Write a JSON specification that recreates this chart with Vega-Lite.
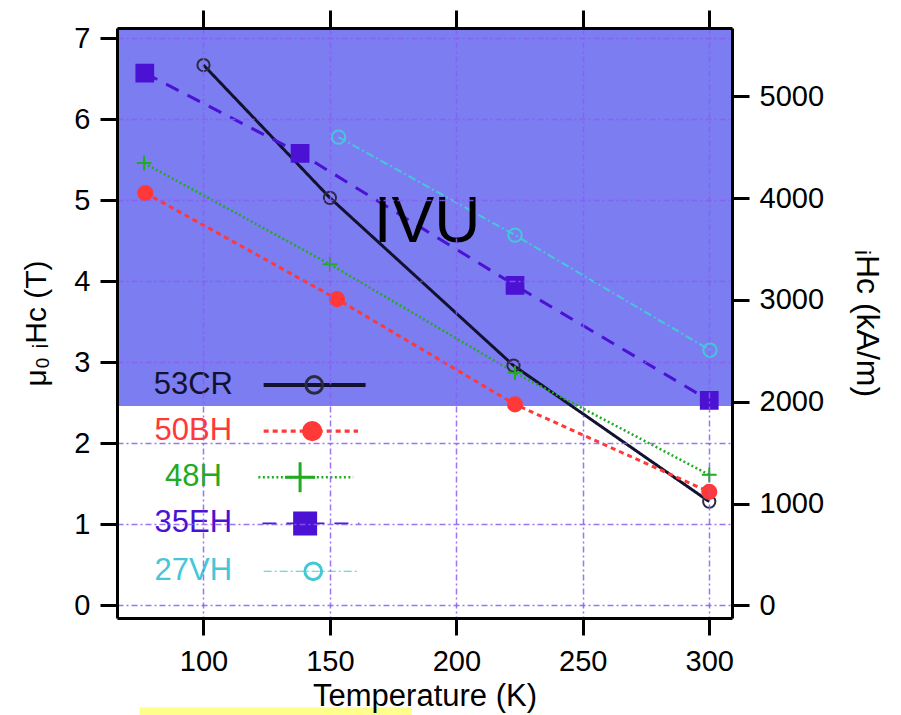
{
  "$schema": "https://vega.github.io/schema/vega-lite/v6.json",
  "width": 615,
  "height": 590,
  "autosize": {"type": "none"},
  "padding": {"left": 117, "top": 28, "right": 169, "bottom": 97},
  "background": "white",
  "config": {"view": {"stroke": null}, "font": "Liberation Sans"},
  "datasets": {
    "series": [
      {"series": "53CR", "T": 100, "H": 6.67},
      {"series": "53CR", "T": 150, "H": 5.03},
      {"series": "53CR", "T": 222.6, "H": 2.96},
      {"series": "53CR", "T": 300, "H": 1.28},
      {"series": "50BH", "T": 77, "H": 5.09},
      {"series": "50BH", "T": 152.8, "H": 3.78},
      {"series": "50BH", "T": 223.2, "H": 2.48},
      {"series": "50BH", "T": 300, "H": 1.4},
      {"series": "48H", "T": 76.5, "H": 5.46},
      {"series": "48H", "T": 150, "H": 4.21},
      {"series": "48H", "T": 223.2, "H": 2.87},
      {"series": "48H", "T": 300, "H": 1.61},
      {"series": "35EH", "T": 76.8, "H": 6.57},
      {"series": "35EH", "T": 138.2, "H": 5.58},
      {"series": "35EH", "T": 223.2, "H": 3.95},
      {"series": "35EH", "T": 300, "H": 2.53},
      {"series": "27VH", "T": 153.4, "H": 5.78},
      {"series": "27VH", "T": 223.2, "H": 4.57},
      {"series": "27VH", "T": 300.3, "H": 3.15}
    ],
    "legend": [
      {"series": "53CR", "ly": 2.72, "lx1": 123.8, "lx2": 164.1, "mx": 143.8, "tx": 96},
      {"series": "50BH", "ly": 2.15, "lx1": 123.8, "lx2": 161.1, "mx": 143, "tx": 96},
      {"series": "48H", "ly": 1.58, "lx1": 121.7, "lx2": 159.2, "mx": 138.2, "tx": 96},
      {"series": "35EH", "ly": 1.01, "lx1": 123.3, "lx2": 161.6, "mx": 140.2, "tx": 96},
      {"series": "27VH", "ly": 0.42, "lx1": 123.8, "lx2": 161.6, "mx": 143.4, "tx": 96}
    ],
    "zones": [
      {"kind": "IVU", "x1": 65.8, "x2": 309, "y1": 2.46, "y2": 7.127},
      {"kind": "mark", "x1": 74.7, "x2": 182.4, "y1": -1.26, "y2": -1.36}
    ],
    "notes": [{"label": "IVU", "T": 188.4, "H": 4.48}],
    "rightAxis": [{"kAm": 0}, {"kAm": 5000}]
  },
  "layer": [
    {
      "layer": [
        {
          "data": {"name": "zones"},
          "transform": [{"filter": "datum.kind === 'IVU'"}],
          "mark": {"type": "rect", "fill": "#7d7df2"},
          "encoding": {
            "x": {"field": "x1", "type": "quantitative",
              "scale": {"domain": [65.8, 309], "nice": false, "zero": false},
              "axis": {"orient": "bottom", "values": [100, 150, 200, 250, 300], "format": "d",
                "title": "Temperature (K)", "titleFontSize": 31, "titleFontWeight": "normal", "titleColor": "black", "titlePadding": 5,
                "labelFontSize": 29, "labelColor": "black", "labelPadding": 12, "labelFlush": false,
                "tickSize": 17, "tickWidth": 3, "tickColor": "black",
                "domain": true, "domainColor": "black", "domainWidth": 3,
                "grid": true, "gridColor": "#8b5cf6", "gridDash": [6, 3, 2, 3], "gridWidth": 1.5, "gridOpacity": 0.85,
                "zindex": 1}},
            "x2": {"field": "x2"},
            "y": {"field": "y1", "type": "quantitative",
              "scale": {"domain": [-0.157, 7.127], "nice": false, "zero": false}, "axis": null},
            "y2": {"field": "y2"}
          }
        },
        {
          "data": {"name": "zones"},
          "transform": [{"filter": "datum.kind === 'mark'"}],
          "mark": {"type": "rect", "fill": "#ffff8c"},
          "encoding": {
            "x": {"field": "x1", "type": "quantitative", "axis": null},
            "x2": {"field": "x2"},
            "y": {"field": "y1", "type": "quantitative", "axis": null},
            "y2": {"field": "y2"}
          }
        },
        {
          "data": {"name": "series"},
          "mark": {"type": "line"},
          "encoding": {
            "x": {"field": "T", "type": "quantitative", "axis": null},
            "y": {"field": "H", "type": "quantitative", "axis": null},
            "color": {"field": "series", "type": "nominal", "legend": null,
              "scale": {"domain": ["53CR", "50BH", "48H", "35EH", "27VH"], "range": ["#121230", "#ff3838", "#22aa22", "#4b12d4", "#44c8d8"]}},
            "strokeDash": {"field": "series", "type": "nominal", "legend": null,
              "scale": {"domain": ["53CR", "50BH", "48H", "35EH", "27VH"], "range": [[1, 0], [5, 4], [2, 2.5], [14, 10], [8, 3, 2, 3]]}},
            "strokeWidth": {"field": "series", "type": "nominal", "legend": null,
              "scale": {"type": "ordinal", "domain": ["53CR", "50BH", "48H", "35EH", "27VH"], "range": [3, 3, 2.5, 3, 2]}}
          }
        },
        {
          "data": {"name": "series"},
          "mark": {"type": "point", "filled": true, "strokeWidth": 2, "opacity": 1},
          "encoding": {
            "x": {"field": "T", "type": "quantitative", "axis": null},
            "y": {"field": "H", "type": "quantitative", "axis": null},
            "shape": {"field": "series", "type": "nominal", "legend": null,
              "scale": {"domain": ["53CR", "50BH", "48H", "35EH", "27VH"], "range": ["circle", "circle", "M-1,0H1M0,-1V1", "square", "circle"]}},
            "fill": {"field": "series", "type": "nominal", "legend": null,
              "scale": {"domain": ["53CR", "50BH", "48H", "35EH", "27VH"], "range": ["transparent", "#ff3838", "transparent", "#4b12d4", "transparent"]}},
            "stroke": {"field": "series", "type": "nominal", "legend": null,
              "scale": {"domain": ["53CR", "50BH", "48H", "35EH", "27VH"], "range": ["#2a2a40", "#ff3838", "#22aa22", "#4b12d4", "#44c8d8"]}},
            "size": {"field": "series", "type": "nominal", "legend": null,
              "scale": {"type": "ordinal", "domain": ["53CR", "50BH", "48H", "35EH", "27VH"], "range": [150, 200, 220, 280, 180]}}
          }
        },
        {
          "data": {"name": "notes"},
          "mark": {"type": "text", "fontSize": 64, "align": "center", "baseline": "alphabetic", "color": "black"},
          "encoding": {
            "x": {"field": "T", "type": "quantitative", "axis": null},
            "y": {"field": "H", "type": "quantitative", "axis": null},
            "text": {"field": "label"}
          }
        },
        {
          "data": {"name": "legend"},
          "mark": {"type": "rule"},
          "encoding": {
            "x": {"field": "lx1", "type": "quantitative", "axis": null},
            "x2": {"field": "lx2"},
            "y": {"field": "ly", "type": "quantitative", "axis": null},
            "color": {"field": "series", "type": "nominal", "legend": null},
            "strokeDash": {"field": "series", "type": "nominal", "legend": null},
            "strokeWidth": {"field": "series", "type": "nominal", "legend": null}
          }
        },
        {
          "data": {"name": "legend"},
          "mark": {"type": "point", "filled": true, "strokeWidth": 3, "opacity": 1},
          "encoding": {
            "x": {"field": "mx", "type": "quantitative", "axis": null},
            "y": {"field": "ly", "type": "quantitative", "axis": null},
            "shape": {"field": "series", "type": "nominal", "legend": null},
            "fill": {"field": "series", "type": "nominal", "legend": null},
            "stroke": {"field": "series", "type": "nominal", "legend": null},
            "size": {"field": "series", "type": "nominal", "legend": null,
              "scale": {"type": "ordinal", "domain": ["53CR", "50BH", "48H", "35EH", "27VH"], "range": [280, 300, 900, 440, 280]}}
          }
        },
        {
          "data": {"name": "legend"},
          "mark": {"type": "text", "fontSize": 31, "align": "center", "baseline": "middle"},
          "encoding": {
            "x": {"field": "tx", "type": "quantitative", "axis": null},
            "y": {"field": "ly", "type": "quantitative", "axis": null},
            "text": {"field": "series"},
            "color": {"field": "series", "type": "nominal", "legend": null}
          }
        },
        {
          "data": {"name": "series"},
          "mark": {"type": "rule", "opacity": 0},
          "encoding": {
            "x": {"field": "T", "type": "quantitative",
              "axis": {"orient": "top", "values": [100, 150, 200, 250, 300], "labels": false, "title": null,
                "tickSize": 18, "tickWidth": 3, "tickColor": "black",
                "domain": true, "domainColor": "black", "domainWidth": 3, "grid": false, "zindex": 1}}
          }
        }
      ],
      "resolve": {"scale": {"size": "independent"}}
    },
    {
      "data": {"name": "series"},
      "mark": {"type": "rule", "opacity": 0},
      "encoding": {
        "y": {"field": "H", "type": "quantitative",
          "scale": {"domain": [-0.157, 7.127], "nice": false, "zero": false},
          "axis": {"orient": "left", "values": [0, 1, 2, 3, 4, 5, 6, 7], "format": "d",
            "title": "μ₀ ᵢHc (T)", "titleFontSize": 30, "titleFontWeight": "normal", "titleColor": "black", "titlePadding": 22,
            "labelFontSize": 29, "labelColor": "black", "labelPadding": 10,
            "tickSize": 17, "tickWidth": 3, "tickColor": "black",
            "domain": true, "domainColor": "black", "domainWidth": 3,
            "grid": true, "gridColor": "#8b5cf6", "gridDash": [6, 3, 2, 3], "gridWidth": 1.5, "gridOpacity": 0.85,
            "zindex": 1}}
      }
    },
    {
      "data": {"name": "rightAxis"},
      "mark": {"type": "rule", "opacity": 0},
      "encoding": {
        "y": {"field": "kAm", "type": "quantitative",
          "scale": {"domain": [-125, 5672], "nice": false, "zero": false},
          "axis": {"orient": "right", "values": [0, 1000, 2000, 3000, 4000, 5000], "format": "d",
            "title": "ᵢHc (kA/m)", "titleFontSize": 32, "titleFontWeight": "normal", "titleColor": "black", "titlePadding": 26,
            "labelFontSize": 29, "labelColor": "black", "labelPadding": 10,
            "tickSize": 17, "tickWidth": 3, "tickColor": "black",
            "domain": true, "domainColor": "black", "domainWidth": 3, "grid": false, "zindex": 1}}
      }
    }
  ],
  "resolve": {"scale": {"y": "independent"}}
}
